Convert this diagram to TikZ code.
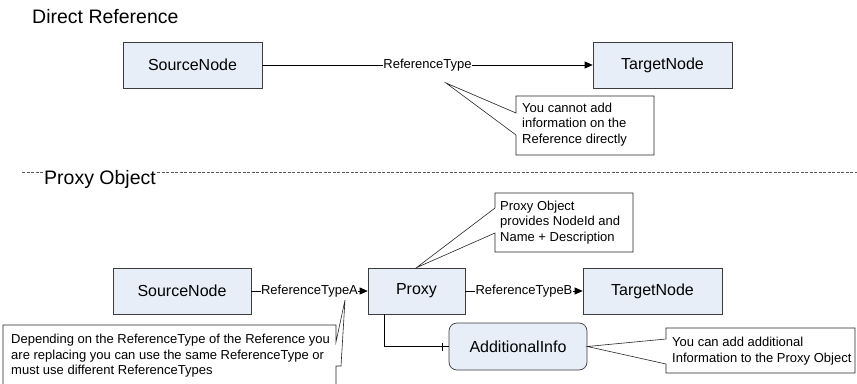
\documentclass[tikz,border=0pt]{standalone}
\usepackage{fontspec}
\setmainfont{Liberation Sans}
\usetikzlibrary{arrows.meta,calc}
\definecolor{boxfill}{RGB}{232,238,247}
\definecolor{boxline}{RGB}{60,60,60}
\definecolor{dashgray}{RGB}{90,90,90}
\begin{document}
\begin{tikzpicture}[x=1pt,y=-1pt,
  nodebox/.style={draw=boxline, fill=boxfill, line width=0.7pt, minimum height=46pt, inner sep=0pt, font=\fontsize{16}{19}\selectfont},
  reflabel/.style={fill=white, inner xsep=0.5pt, inner ysep=1pt, font=\fontsize{13}{15.5}\selectfont},
  refarrow/.style={line width=0.7pt, -{Triangle[length=8pt,width=7pt]}},
  plainline/.style={line width=0.7pt},
  callout/.style={draw=black!85, fill=white, line width=0.6pt},
  callouttext/.style={align=left, inner sep=0pt, anchor=west, font=\fontsize{13}{15.5}\selectfont},
  titletext/.style={inner sep=0pt, anchor=base west, font=\fontsize{19.5}{23}\selectfont}]
\useasboundingbox (0,0) rectangle (857,383);

% ---------- Direct Reference ----------
\node[titletext] (t1) at (32,23) {Direct Reference};
\node[nodebox, minimum width=139pt] (src1) at (192.5,65) {SourceNode};
\node[nodebox, minimum width=139pt] (tgt1) at (662.5,65) {TargetNode};
\draw[refarrow] (src1) -- node[reflabel] (l1) {ReferenceType} (tgt1);

\coordinate (c1tip) at (446,83);
\draw[callout] (516,96) -- (654,96) -- (654,155) -- (516,155) -- (516,135) -- (c1tip) -- (516,113) -- cycle;
\node[callouttext] (c1) at (522,124.5) {You cannot add\\information on the\\Reference directly};

% ---------- separator ----------
\coordinate (dl) at (22,172);
\coordinate (dr) at (857,172);
\draw[dashgray, line width=0.6pt, dash pattern=on 3pt off 1.5pt] (dl) -- (dr);
\node[titletext, fill=white] (t2) at (44,184) {Proxy Object};

% ---------- Proxy Object ----------
\node[nodebox, minimum width=138pt] (src2) at (182,291) {SourceNode};
\node[nodebox, minimum width=97pt] (proxy) at (416.5,291) {Proxy};
\node[nodebox, minimum width=139pt] (tgt2) at (652.5,291) {TargetNode};
\node[nodebox, minimum width=138pt, minimum height=47pt, rounded corners=8pt] (info) at (518,346.5) {AdditionalInfo};

\draw[refarrow] (src2) -- node[reflabel] (l2) {ReferenceTypeA} (proxy);
\draw[refarrow] (proxy) -- node[reflabel] (l3) {ReferenceTypeB} (tgt2);
\draw[plainline] ($(proxy.south west)+(17,0)$) |- (info.west);
\draw[plainline] ($(info.west)+(-6,-4)$) -- ($(info.west)+(-6,4)$);

% callout: proxy object
\draw[callout] (495,193) -- (633,193) -- (633,252) -- (495,252) -- (495,233) -- (proxy.north) -- (495,208) -- cycle;
\node[callouttext] (c2) at (500,222.5) {Proxy Object\\provides NodeId and\\Name + Description};

% callout: additional info
\draw[callout] (666,328) -- (855,328) -- (855,373) -- (666,373) -- (666,364) -- (info.east) -- (666,339) -- cycle;
\node[callouttext] (c3) at (672,351) {You can add additional\\Information to the Proxy Object};

% callout: reference types
\coordinate (c4tip) at (345,300);
\draw[callout] (3,325) -- (336,325) -- (336,342) -- (c4tip) -- (341,366) -- (336,366) -- (336,395) -- (3,395) -- cycle;
\node[callouttext] (c4) at (11,356) {Depending on the ReferenceType of the Reference you\\are replacing you can use the same ReferenceType or\\must use different ReferenceTypes};
\end{tikzpicture}
\end{document}
